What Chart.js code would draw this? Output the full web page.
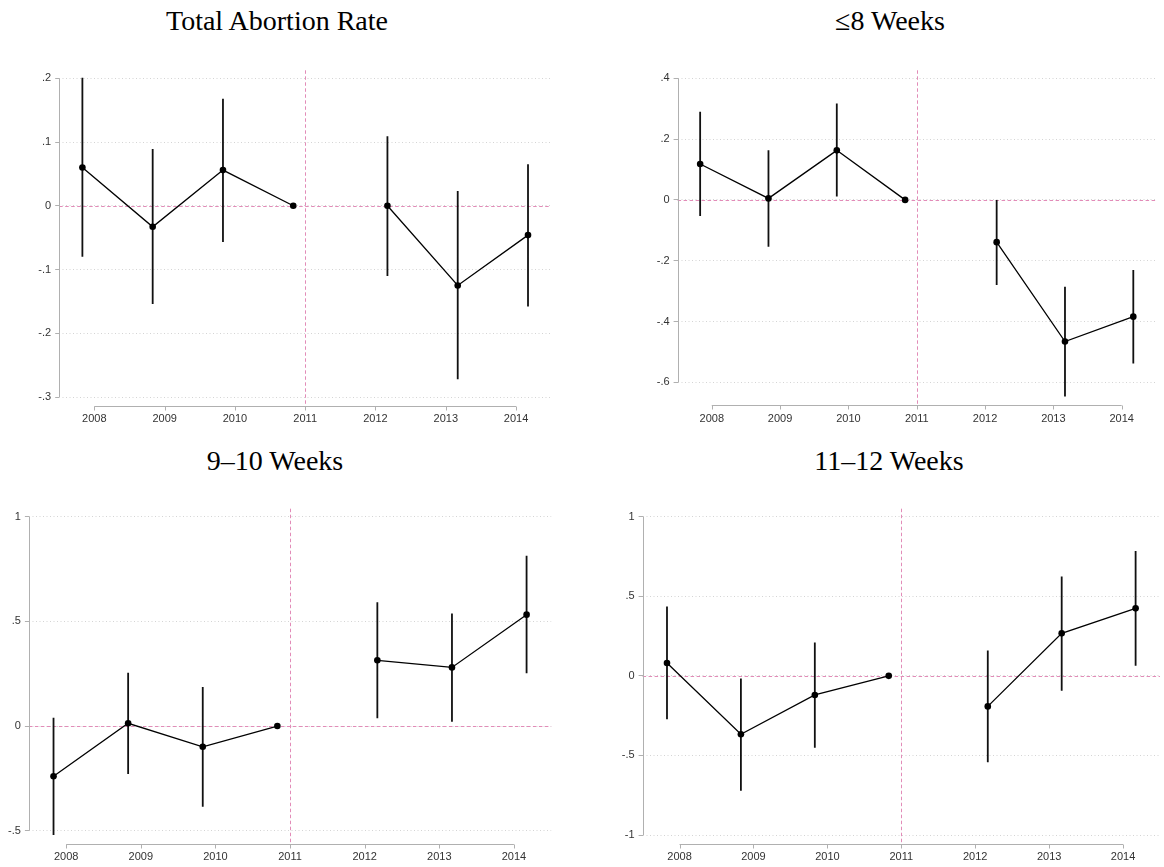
<!DOCTYPE html>
<html>
<head>
<meta charset="utf-8">
<script src="https://cdn.jsdelivr.net/npm/chart.js@4"></script>
<style>
body { margin: 0; background: #fff; width: 1164px; height: 867px; position: relative; overflow: hidden; }
canvas { position: absolute; }
.title { position: absolute; width: 400px; text-align: center; font-family: "Liberation Serif", "Times New Roman", serif; font-size: 28px; line-height: 28px; color: #000; white-space: nowrap; }
</style>
</head>
<body>
<script>
// event years, reference year
var years = [2008, 2009, 2010, 2011, 2012, 2013, 2014];
var refYear = 2011;

var titles = ['Total Abortion Rate', '\u22648 Weeks', '9\u201310 Weeks', '11\u201312 Weeks'];

// Total abortion rate
var totalCoef = [0.060, -0.033, 0.056, 0, 0.000, -0.125, -0.046];
var totalLo   = [-0.080, -0.154, -0.057, null, -0.110, -0.272, -0.158];
var totalHi   = [0.201, 0.089, 0.168, null, 0.109, 0.023, 0.065];
var totalYTicks = [-0.3, -0.2, -0.1, 0, 0.1, 0.2];

// <=8 weeks
var w8Coef = [0.118, 0.005, 0.163, 0, -0.139, -0.466, -0.384];
var w8Lo   = [-0.053, -0.154, 0.011, null, -0.280, -0.647, -0.538];
var w8Hi   = [0.290, 0.163, 0.317, null, 0.000, -0.286, -0.231];
var w8YTicks = [-0.6, -0.4, -0.2, 0, 0.2, 0.4];

// 9-10 weeks
var w910Coef = [-0.240, 0.013, -0.099, 0, 0.314, 0.280, 0.532];
var w910Lo   = [-0.521, -0.229, -0.385, null, 0.037, 0.021, 0.252];
var w910Hi   = [0.040, 0.255, 0.186, null, 0.591, 0.538, 0.814];
var w910YTicks = [-0.5, 0, 0.5, 1];

// 11-12 weeks
var w1112Coef = [0.081, -0.367, -0.120, 0, -0.192, 0.267, 0.424];
var w1112Lo   = [-0.273, -0.722, -0.451, null, -0.543, -0.093, 0.064];
var w1112Hi   = [0.435, -0.016, 0.210, null, 0.160, 0.625, 0.784];
var w1112YTicks = [-1, -0.5, 0, 0.5, 1];

var tickFont = { family: 'Liberation Sans', size: 11 };

function fmtStata(v) {
    var r = Math.round(v * 10) / 10;
    if (r === 0) return '0';
    return String(r).replace('0.', '.');
}

// stata-like axes and dashed reference lines
var stataAxes = {
    id: 'stataAxes',
    beforeDatasetsDraw: function(chart, args, opts) {
        var ctx = chart.ctx, xs = chart.scales.x, ys = chart.scales.y, area = chart.chartArea;
        var axisY = Math.round(area.bottom + opts.gap) + 0.5;
        function seg(x1, y1, x2, y2) { ctx.beginPath(); ctx.moveTo(x1, y1); ctx.lineTo(x2, y2); ctx.stroke(); }
        ctx.save();
        ctx.lineWidth = 1;
        ctx.strokeStyle = 'rgb(226,140,184)';
        ctx.setLineDash([3.5, 2.5]);
        var y0 = Math.round(ys.getPixelForValue(opts.refY)) + 0.5;
        seg(area.left, y0, area.right, y0);
        var xr = Math.round(xs.getPixelForValue(opts.refX)) + 0.5;
        seg(xr, area.top - 8, xr, axisY + 1);
        ctx.setLineDash([]);
        ctx.strokeStyle = '#b0b0b0';
        var xl = Math.round(area.left) + 0.5;
        seg(xl, ys.getPixelForValue(opts.yTop), xl, ys.getPixelForValue(opts.yBottom));
        var xa = xs.getPixelForValue(years[0]), xb = xs.getPixelForValue(years[years.length - 1]);
        seg(xa, axisY, xb, axisY);
        years.forEach(function(yr) {
            var px = Math.round(xs.getPixelForValue(yr)) + 0.5;
            seg(px, axisY, px, axisY + 4);
        });
        ctx.restore();
    }
};

function makePanel(title, coef, lo, hi, yTicks, box, plot, titleX, titleBase) {
    var t = document.createElement('div');
    t.className = 'title';
    t.textContent = title;
    t.style.left = (titleX - 200) + 'px';
    t.style.top = (titleBase - 23) + 'px';
    document.body.appendChild(t);

    var cv = document.createElement('canvas');
    cv.width = box.w; cv.height = box.h;
    cv.style.left = box.x + 'px'; cv.style.top = box.y + 'px';
    cv.style.width = box.w + 'px'; cv.style.height = box.h + 'px';
    document.body.appendChild(cv);

    var tMin = yTicks[0], tMax = yTicks[yTicks.length - 1];
    var pxPerUnit = (plot.b - plot.t) / (tMax - tMin);
    var dataMin = Math.min.apply(null, lo.filter(function(v) { return v !== null; }));
    var extra = Math.max(0, (tMin - dataMin) * pxPerUnit);
    var gap = extra + 8.5;

    var pre = [], post = [], ci = [];
    years.forEach(function(yr, i) {
        var x = yr <= refYear ? yr - 0.17 : yr + 0.17;
        (yr <= refYear ? pre : post).push({ x: x, y: coef[i] });
        if (lo[i] !== null) {
            ci.push({ x: x, y: lo[i] }, { x: x, y: hi[i] }, { x: x, y: null });
        }
    });

    var lineStyle = {
        borderColor: '#000', borderWidth: 1.3, pointRadius: 3.3,
        pointBackgroundColor: '#000', pointBorderWidth: 0, clip: false
    };

    new Chart(cv, {
        type: 'line',
        data: {
            datasets: [
                Object.assign({ data: pre }, lineStyle),
                Object.assign({ data: post }, lineStyle),
                { data: ci, borderColor: '#111', borderWidth: 1.8, pointRadius: 0, spanGaps: false, clip: false }
            ]
        },
        options: {
            responsive: false,
            animation: false,
            events: [],
            devicePixelRatio: 1,
            layout: { padding: { left: 0, top: plot.t - box.y, right: box.x + box.w - plot.r, bottom: 0 } },
            plugins: {
                legend: { display: false },
                tooltip: { enabled: false },
                stataAxes: { gap: gap, refX: refYear, refY: 0, yTop: tMax, yBottom: tMin }
            },
            scales: {
                x: {
                    type: 'linear', min: 2007.5, max: 2014.5,
                    afterBuildTicks: function(a) { a.ticks = years.map(function(v) { return { value: v }; }); },
                    afterFit: function(a) { a.height = box.y + box.h - plot.b; },
                    grid: { display: false, drawTicks: false },
                    border: { display: false },
                    ticks: {
                        padding: extra + 15.5, autoSkip: false, maxRotation: 0, color: '#333', font: tickFont,
                        callback: function(v) { return String(v); }
                    }
                },
                y: {
                    type: 'linear', min: tMin, max: tMax,
                    afterBuildTicks: function(a) { a.ticks = yTicks.map(function(v) { return { value: v }; }); },
                    afterFit: function(a) { a.width = plot.l - box.x; },
                    grid: { color: '#d4d4d4', lineWidth: 1, drawTicks: true, tickLength: 4, tickColor: '#b0b0b0', tickWidth: 1, tickBorderDash: [] },
                    border: { display: false, dash: [1, 2.5] },
                    ticks: { padding: 4, color: '#333', font: tickFont, callback: fmtStata }
                }
            }
        },
        plugins: [stataAxes]
    });
}

makePanel(titles[0], totalCoef, totalLo, totalHi, totalYTicks,
    { x: 0, y: 0, w: 582, h: 440 }, { l: 59.2, t: 78.3, r: 551.2, b: 397 }, 277, 30);
makePanel(titles[1], w8Coef, w8Lo, w8Hi, w8YTicks,
    { x: 582, y: 0, w: 582, h: 440 }, { l: 677.6, t: 78.3, r: 1164, b: 382.3 }, 890, 30);
makePanel(titles[2], w910Coef, w910Lo, w910Hi, w910YTicks,
    { x: 0, y: 440, w: 582, h: 427 }, { l: 28.9, t: 516.7, r: 551.2, b: 830.7 }, 275, 470);
makePanel(titles[3], w1112Coef, w1112Lo, w1112Hi, w1112YTicks,
    { x: 582, y: 440, w: 582, h: 427 }, { l: 642.6, t: 516.7, r: 1164, b: 835 }, 889, 470);
</script>
</body>
</html>
